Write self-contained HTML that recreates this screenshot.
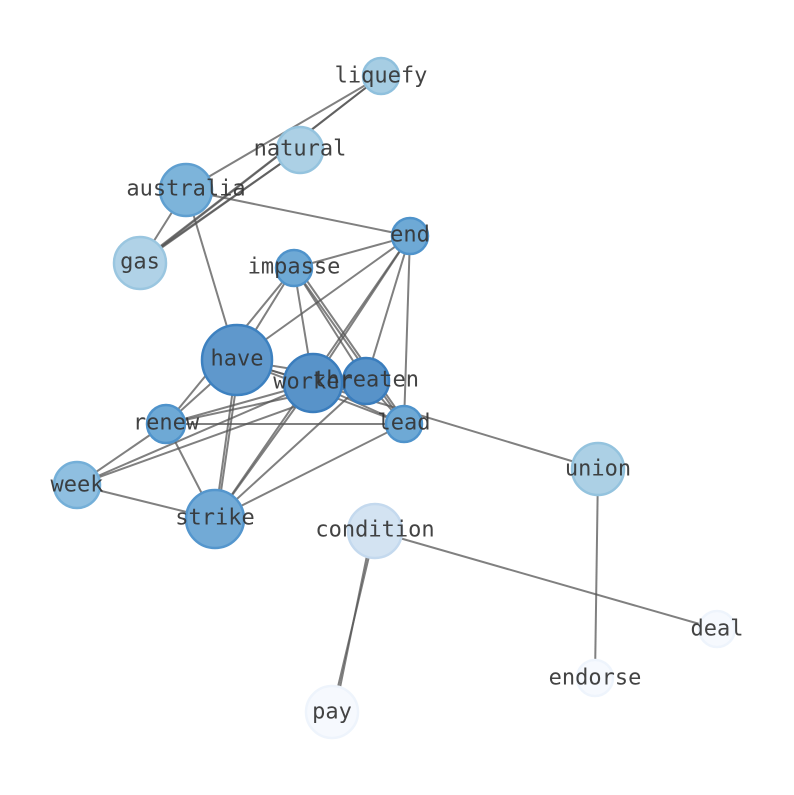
<!DOCTYPE html><html><head><style>body{margin:0;background:#fff}</style></head><body>
<svg width="794" height="790" xmlns="http://www.w3.org/2000/svg">
<g stroke="#555" stroke-opacity="0.75" stroke-width="2" fill="none">
<line x1="381" y1="76" x2="186" y2="190"/><line x1="381" y1="76" x2="140" y2="263"/><line x1="381" y1="76" x2="145" y2="258"/>
<line x1="300" y1="150" x2="140" y2="263"/><line x1="300" y1="150" x2="150" y2="255"/>
<line x1="186" y1="190" x2="140" y2="263"/><line x1="186" y1="190" x2="410" y2="236"/><line x1="186" y1="190" x2="237" y2="360"/>
<line x1="410" y1="236" x2="294" y2="268"/><line x1="410" y1="236" x2="237" y2="360"/><line x1="410" y1="236" x2="313" y2="383"/><line x1="410" y1="236" x2="366" y2="381"/><line x1="410" y1="236" x2="404" y2="424"/><line x1="410" y1="236" x2="215" y2="519"/>
<line x1="294" y1="268" x2="237" y2="360"/><line x1="294" y1="268" x2="166" y2="424"/><line x1="294" y1="268" x2="313" y2="383"/><line x1="294" y1="268" x2="366" y2="381"/><line x1="294" y1="268" x2="404" y2="424"/><line x1="298" y1="268" x2="404" y2="420"/>
<line x1="237" y1="360" x2="313" y2="383"/><line x1="237" y1="360" x2="366" y2="381"/><line x1="237" y1="360" x2="404" y2="424"/><line x1="237" y1="360" x2="215" y2="519"/><line x1="240" y1="360" x2="217" y2="519"/><line x1="237" y1="360" x2="166" y2="424"/><line x1="237" y1="360" x2="598" y2="469"/>
<line x1="313" y1="383" x2="166" y2="424"/><line x1="313" y1="383" x2="77" y2="485"/><line x1="313" y1="383" x2="215" y2="519"/><line x1="313" y1="383" x2="404" y2="424"/>
<line x1="366" y1="381" x2="166" y2="424"/><line x1="366" y1="381" x2="77" y2="485"/><line x1="366" y1="381" x2="215" y2="519"/><line x1="366" y1="381" x2="404" y2="424"/>
<line x1="166" y1="424" x2="404" y2="424"/><line x1="166" y1="424" x2="215" y2="519"/><line x1="166" y1="424" x2="77" y2="485"/>
<line x1="404" y1="424" x2="215" y2="519"/><line x1="77" y1="485" x2="215" y2="519"/>
<line x1="598" y1="469" x2="595" y2="678"/>
<line x1="375" y1="531" x2="717" y2="629"/><line x1="375" y1="531" x2="332" y2="712"/><line x1="372" y1="531" x2="335" y2="712"/>
</g>
<g stroke-width="2.5">
<circle cx="381" cy="76" r="18" fill="#a6cde3" stroke="#8fc0dd"/>
<circle cx="300" cy="150" r="23" fill="#acd0e5" stroke="#94c3de"/>
<circle cx="186" cy="190" r="26" fill="#7db4da" stroke="#5f9fd0"/>
<circle cx="140" cy="263" r="26" fill="#b0d2e7" stroke="#9ac6e0"/>
<circle cx="410" cy="236" r="18" fill="#6ea9d5" stroke="#4f93cb"/>
<circle cx="294" cy="268" r="18" fill="#6ea9d5" stroke="#4f93cb"/>
<circle cx="237" cy="360" r="35" fill="#5f98cc" stroke="#3d81c0"/>
<circle cx="313" cy="383" r="29" fill="#5893c9" stroke="#3a7dbd"/>
<circle cx="366" cy="381" r="23" fill="#5893c9" stroke="#3a7dbd"/>
<circle cx="166" cy="424" r="19" fill="#6ea9d5" stroke="#4f93cb"/>
<circle cx="404" cy="424" r="18" fill="#6ea9d5" stroke="#4f93cb"/>
<circle cx="77" cy="485" r="23" fill="#8fbfe0" stroke="#74afd8"/>
<circle cx="215" cy="519" r="29" fill="#72aad6" stroke="#5496cd"/>
<circle cx="598" cy="469" r="26" fill="#acd0e5" stroke="#94c3de"/>
<circle cx="375" cy="531" r="27" fill="#d3e3f2" stroke="#c4d9ee"/>
<circle cx="717" cy="629" r="18" fill="#f6f9fe" stroke="#eef4fc"/>
<circle cx="595" cy="678" r="18" fill="#f6f9fe" stroke="#eef4fc"/>
<circle cx="332" cy="712" r="26" fill="#f6f9fe" stroke="#eef4fc"/>
</g>
<g font-family="DejaVu Sans Mono, Liberation Mono, monospace" font-size="22" fill="#333" fill-opacity="0.92" text-anchor="middle" dominant-baseline="central">
<text x="381" y="76">liquefy</text><text x="300" y="149">natural</text><text x="186" y="189">australia</text><text x="140" y="262">gas</text>
<text x="410" y="235">end</text><text x="294" y="267">impasse</text><text x="237" y="359">have</text><text x="313" y="382">worker</text>
<text x="366" y="380">threaten</text><text x="166" y="423">renew</text><text x="404" y="423">lead</text><text x="77" y="485">week</text>
<text x="215" y="518">strike</text><text x="598" y="469">union</text><text x="375" y="530">condition</text><text x="717" y="629">deal</text>
<text x="595" y="678">endorse</text><text x="332" y="712">pay</text>
</g>
</svg></body></html>
